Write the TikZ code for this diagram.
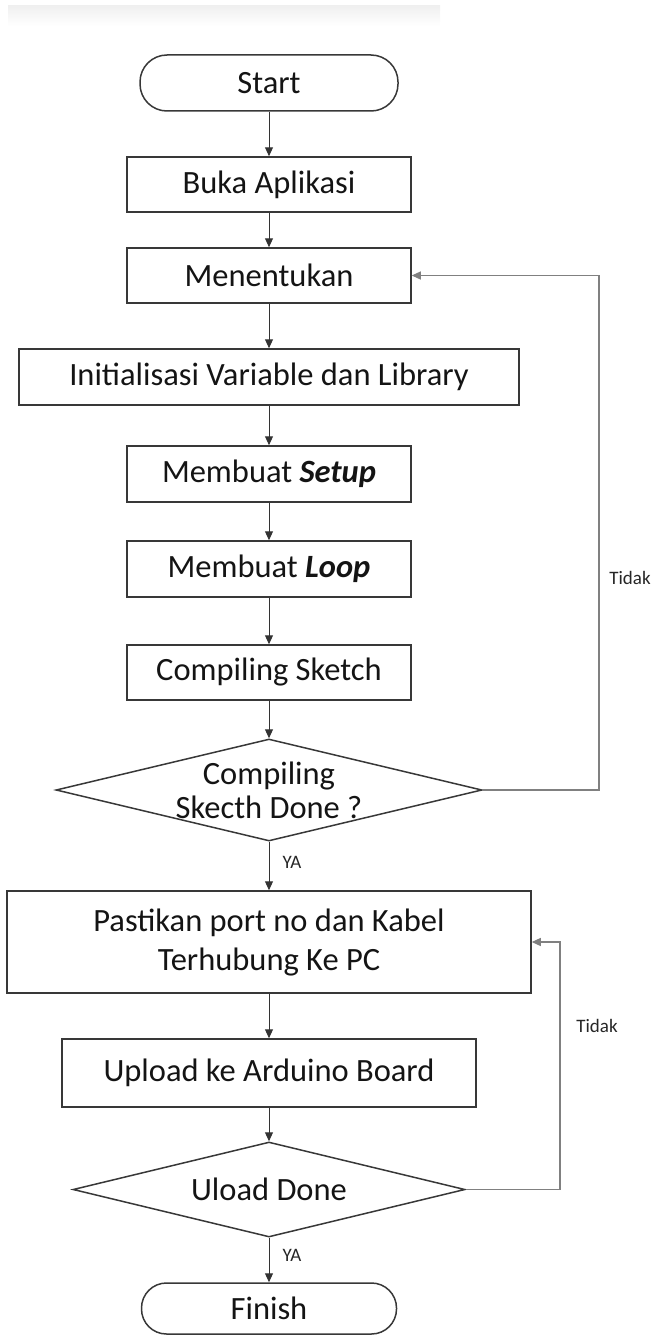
\documentclass[tikz,border=0pt]{standalone}
\usepackage{fontspec}
\setmainfont{Carlito}
\usetikzlibrary{shapes.geometric,arrows.meta}
\begin{document}
\begin{tikzpicture}[x=1pt,y=-1pt,
  every node/.style={font=\fontsize{32.5}{39}\selectfont, text=black!92},
  box/.style={draw=black!78, line width=1.5pt, rectangle, inner sep=0pt, align=center},
  term/.style={box, rounded corners=27pt},
  dec/.style={draw=black!78, line width=1.5pt, diamond, inner sep=0pt},
  flow/.style={draw=black!80, line width=1pt, -{Triangle[length=9pt,width=8pt]}},
  back/.style={draw=black!50, line width=1.2pt, -{Triangle[length=9pt,width=8pt]}},
  small/.style={font=\fontsize{19}{22}\selectfont, text=black!85}
]
\useasboundingbox (0,0) rectangle (662,1335);
% faint top shadow
\shade[top color=black!6, bottom color=white] (8,6) rectangle (440,26);

\node[term, minimum width=258pt, minimum height=56pt] (start) at (269,83) {Start};
\node[box, minimum width=284pt, minimum height=55pt] (buka) at (269,184.5) {Buka Aplikasi};
\node[box, minimum width=284pt, minimum height=55pt] (men) at (269,275.5) {Menentukan};
\node[box, minimum width=500pt, minimum height=56pt] (init) at (269,377) {Initialisasi Variable dan Library};
\node[box, minimum width=284pt, minimum height=56pt] (setup) at (269,474) {Membuat \textbf{\textit{Setup}}};
\node[box, minimum width=284pt, minimum height=56pt] (loop) at (269,569) {Membuat \textbf{\textit{Loop}}};
\node[box, minimum width=284pt, minimum height=55pt] (comp) at (269,672.5) {Compiling Sketch};
\node[dec, minimum width=426pt, minimum height=102pt] (d1) at (269,790) {};
\node[align=center, font=\fontsize{32.5}{34}\selectfont] (d1t) at (269,790) {Compiling\\Skecth Done ?};
\node[box, minimum width=524pt, minimum height=102pt] (port) at (269,942) {Pastikan port no dan Kabel\\Terhubung Ke PC};
\node[box, minimum width=414pt, minimum height=68pt] (upl) at (269,1073) {Upload ke Arduino Board};
\node[dec, minimum width=392pt, minimum height=95pt] (d2) at (269,1189.5) {};
\node (d2t) at (269,1189.5) {Uload Done};
\node[term, minimum width=255pt, minimum height=51pt, rounded corners=25pt] (fin) at (269,1308.5) {Finish};

\coordinate (t1) at (599,275.5);
\coordinate (t2) at (560,942);

\draw[flow] (start) -- (buka);
\draw[flow] (buka) -- (men);
\draw[flow] (men) -- (init);
\draw[flow] (init) -- (setup);
\draw[flow] (setup) -- (loop);
\draw[flow] (loop) -- (comp);
\draw[flow] (comp.south) -- (d1.north);
\draw[flow] (d1.south) -- (port.north);
\draw[flow] (port) -- (upl);
\draw[flow] (upl.south) -- (d2.north);
\draw[flow] (d2.south) -- (fin.north);
\draw[back] (d1.east) -| (t1) -- (men.east);
\draw[back] (d2.east) -| (t2) -- (port.east);

\node[small] (tidak1) at (630,578) {Tidak};
\node[small] (tidak2) at (597,1026) {Tidak};
\node[small] (ya1) at (292,862) {YA};
\node[small] (ya2) at (292,1255) {YA};
\end{tikzpicture}
\end{document}
